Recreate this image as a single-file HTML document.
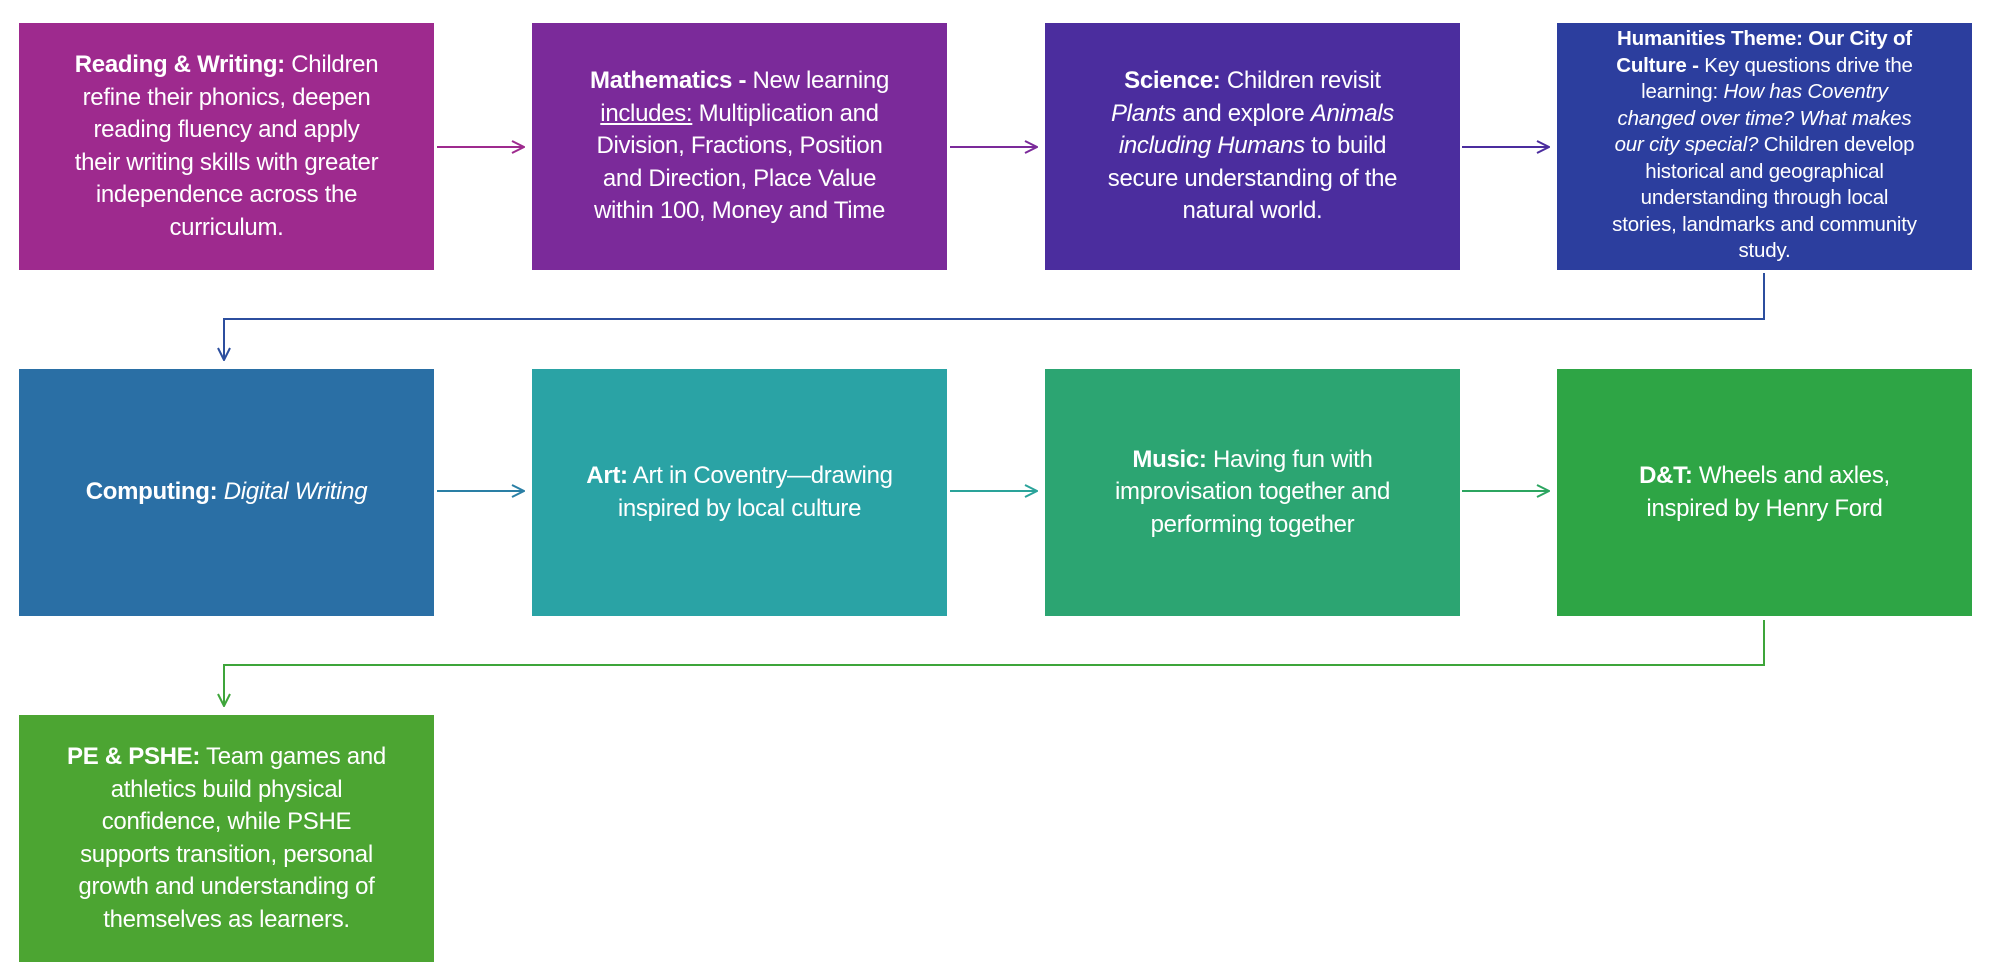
<!DOCTYPE html>
<html><head><meta charset="utf-8"><style>
html,body{margin:0;padding:0;background:#fff;}
body{width:2000px;height:978px;position:relative;overflow:hidden;font-family:"Liberation Sans",sans-serif;}
.b{position:absolute;width:415px;height:247px;color:#fff;display:flex;align-items:center;justify-content:center;text-align:center;box-sizing:border-box;padding:0 4px;font-size:24px;line-height:32.5px;white-space:nowrap;letter-spacing:-0.3px}
.b b{font-weight:bold}
svg{position:absolute;left:0;top:0}
</style></head><body>
<svg width="2000" height="978">
<defs>
<marker id="a" markerWidth="14" markerHeight="14" refX="13" refY="7" orient="auto" markerUnits="userSpaceOnUse"><path d="M1,1 L13,7 L1,13" fill="none" stroke="context-stroke" stroke-width="2"/></marker>
</defs>
<g fill="none" stroke-width="2">
<line x1="437" y1="147" x2="524" y2="147" stroke="#9E2A8E" marker-end="url(#a)"/>
<line x1="950" y1="147" x2="1037" y2="147" stroke="#7B2A9A" marker-end="url(#a)"/>
<line x1="1462" y1="147" x2="1549" y2="147" stroke="#4B2D9E" marker-end="url(#a)"/>
<polyline points="1764,273 1764,319 224,319 224,360" stroke="#2C4E9E" marker-end="url(#a)"/>
<line x1="437" y1="491" x2="524" y2="491" stroke="#2A7FA5" marker-end="url(#a)"/>
<line x1="950" y1="491" x2="1037" y2="491" stroke="#2AA39A" marker-end="url(#a)"/>
<line x1="1462" y1="491" x2="1549" y2="491" stroke="#2CA560" marker-end="url(#a)"/>
<polyline points="1764,620 1764,665 224,665 224,706" stroke="#3EA53A" marker-end="url(#a)"/>
</g>
</svg>
<div class="b" style="left:19px;top:23px;background:#9E2A8E"><div><b>Reading &amp; Writing:</b> Children<br>refine their phonics, deepen<br>reading fluency and apply<br>their writing skills with greater<br>independence across the<br>curriculum.</div></div>
<div class="b" style="left:532px;top:23px;background:#7B2A9A"><div><b>Mathematics -</b> New learning<br><u>includes:</u> Multiplication and<br>Division, Fractions, Position<br>and Direction, Place Value<br>within 100, Money and Time</div></div>
<div class="b" style="left:1045px;top:23px;background:#4B2D9E"><div><b>Science:</b> Children revisit<br><i>Plants</i> and explore <i>Animals</i><br><i>including Humans</i> to build<br>secure understanding of the<br>natural world.</div></div>
<div class="b" style="left:1557px;top:23px;background:#2C3E9E;font-size:20.5px;line-height:26.5px;letter-spacing:-0.2px"><div style="margin-top:-2px"><b>Humanities Theme: Our City of</b><br><b>Culture -</b> Key questions drive the<br>learning: <i>How has Coventry</i><br><i>changed over time? What makes</i><br><i>our city special?</i> Children develop<br>historical and geographical<br>understanding through local<br>stories, landmarks and community<br>study.</div></div>
<div class="b" style="left:19px;top:369px;background:#2A6FA5"><div><b>Computing:</b> <i>Digital Writing</i></div></div>
<div class="b" style="left:532px;top:369px;background:#2AA3A5"><div><b>Art:</b> Art in Coventry—drawing<br>inspired by local culture</div></div>
<div class="b" style="left:1045px;top:369px;background:#2CA572"><div><b>Music:</b> Having fun with<br>improvisation together and<br>performing together</div></div>
<div class="b" style="left:1557px;top:369px;background:#2EA545"><div><b>D&amp;T:</b> Wheels and axles,<br>inspired by Henry Ford</div></div>
<div class="b" style="left:19px;top:715px;background:#4CA532"><div><b>PE &amp; PSHE:</b> Team games and<br>athletics build physical<br>confidence, while PSHE<br>supports transition, personal<br>growth and understanding of<br>themselves as learners.</div></div>
</body></html>
